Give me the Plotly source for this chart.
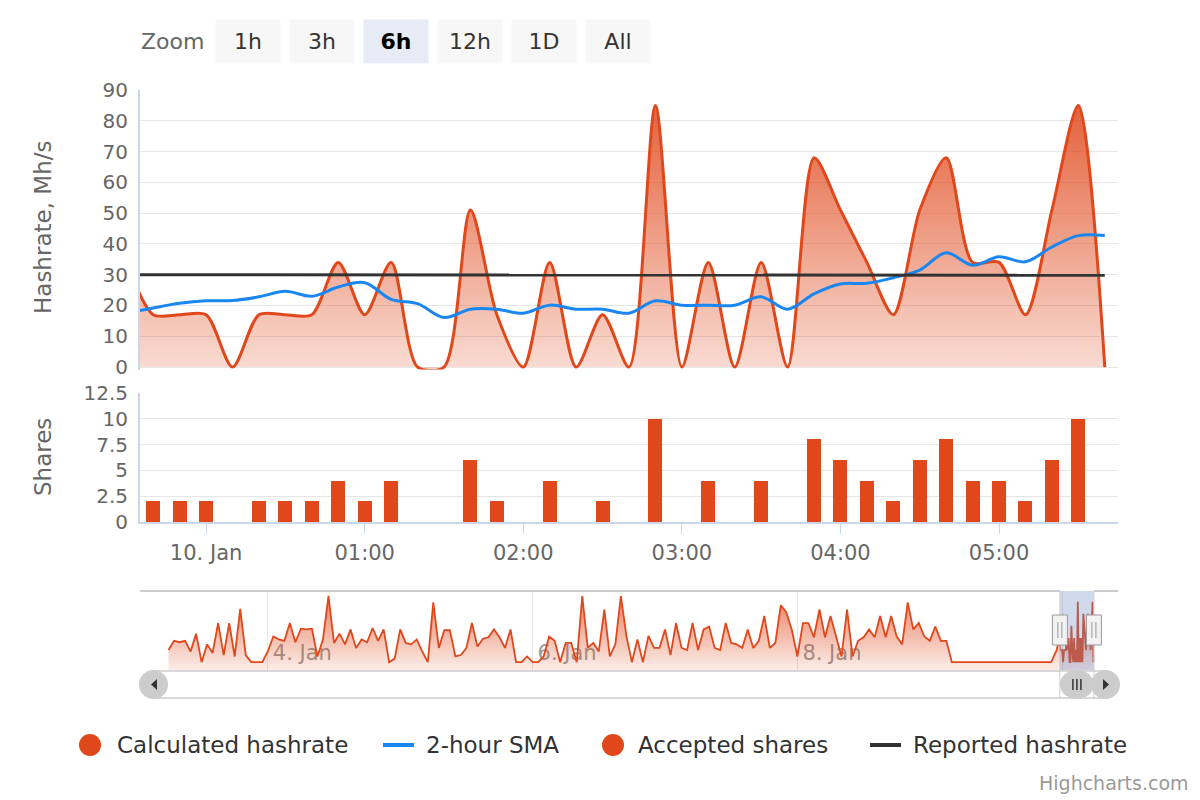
import plotly.graph_objects as go
import pandas as pd

FONT = 'DejaVu Sans'
ORANGE = '#e0481b'
BLUE = '#1a87f0'
DARK = '#333333'

# detail data, 10 minute samples from 9 Jan 23:30
detail_start = '2018-01-09 23:30'
hashrate = [34, 17, 17, 17, 0, 17, 17, 17, 34, 17, 34, 0, 0, 51, 17, 0, 34, 0, 17, 0,
            85, 0, 34, 0, 34, 0, 68, 51, 34, 17, 51, 68, 34, 34, 17, 51, 85, 0]
shares = [4, 2, 2, 2, 0, 2, 2, 2, 4, 2, 4, 0, 0, 6, 2, 0, 4, 0, 2, 0,
          10, 0, 4, 0, 4, 0, 8, 6, 4, 2, 6, 8, 4, 4, 2, 6, 10, 0]
sma_2h = [17.5, 19.2, 20.7, 21.5, 21.6, 22.8, 24.6, 23.0, 26.0, 27.4, 22.0, 20.6, 16.1,
          18.8, 18.8, 17.5, 20.1, 18.8, 18.8, 17.5, 21.5, 20.1, 20.1, 20.1, 22.8, 18.8,
          23.8, 27.0, 27.2, 29.0, 31.5, 37.1, 33.1, 35.8, 34.2, 39.0, 42.7, 42.7]
reported = [30.0, 30.0, 29.9, 29.9, 29.9, 29.9, 29.9, 29.9, 29.9, 29.9, 29.9, 29.9, 29.9,
            29.9, 29.9, 29.9, 29.9, 29.9, 29.9, 29.9, 29.9, 29.9, 29.9, 29.9, 29.9, 29.9,
            29.9, 29.9, 29.9, 29.9, 29.9, 29.9, 29.9, 29.9, 29.9, 29.9, 29.9, 29.8]

# navigator history, hourly samples from 3 Jan 06:00 to 9 Jan 23:00
nav_start = '2018-01-03 06:00'
nav_hashrate = [
    17, 30, 28, 30, 15, 40, 0, 25, 13, 55, 10, 55, 8, 75, 10, 0, 0, 0,
    15, 36, 32, 30, 55, 28, 47, 46, 47, 8, 32, 93, 27, 40, 25, 46, 20, 32, 28, 48, 30, 46, 0, 5,
    46, 27, 25, 32, 15, 0, 84, 20, 45, 45, 8, 10, 20, 55, 22, 33, 35, 46, 35, 20, 46, 0, 0, 8,
    0, 0, 8, 36, 30, 0, 27, 27, 0, 93, 20, 27, 15, 74, 8, 25, 93, 37, 0, 32, 0, 37, 20, 20,
    46, 10, 55, 20, 17, 55, 17, 46, 50, 20, 17, 55, 27, 25, 20, 46, 20, 30, 65, 20, 27, 80, 70, 45,
    8, 55, 55, 35, 74, 35, 65, 35, 8, 74, 8, 30, 35, 46, 35, 65, 35, 65, 36, 25, 84, 46, 55, 36,
    30, 50, 30, 30,
    0, 0, 0, 0, 0, 0, 0, 0, 0, 0, 0, 0, 0, 0, 0, 0, 0, 0, 0,
    17,
]

view_range = ['2018-01-09 23:35', '2018-01-10 05:45']
view_mid = '2018-01-10 02:40'
nav_range = ['2018-01-03 00:50', '2018-01-10 10:07']
hour_ticks = ['2018-01-10 00:00', '2018-01-10 01:00', '2018-01-10 02:00',
              '2018-01-10 03:00', '2018-01-10 04:00', '2018-01-10 05:00']
hour_labels = ['10. Jan', '01:00', '02:00', '03:00', '04:00', '05:00']
day_ticks = ['2018-01-04', '2018-01-06', '2018-01-08', '2018-01-10']
day_labels = ['4. Jan', '6. Jan', '8. Jan', '10. Jan']
zoom_buttons = ['1h', '3h', '6h', '12h', '1D', 'All']
selected_button = '6h'
legend_items = [('Calculated hashrate', 'circle', ORANGE),
                ('2-hour SMA', 'line', BLUE),
                ('Accepted shares', 'circle', ORANGE),
                ('Reported hashrate', 'line', DARK)]

times = pd.date_range(detail_start, periods=len(hashrate), freq='10min')
nav_times = pd.date_range(nav_start, periods=len(nav_hashrate), freq='h')
nav_x = list(nav_times) + list(times)
nav_y = nav_hashrate + hashrate

# page body adds an 8px offset, so layout positions are shifted back by it
OFF = 8


def px(x):
    return (x - OFF) / 1200


def py(y):
    return 1 - (y - OFF) / 800


fig = go.Figure()

# main pane
fig.add_trace(go.Scatter(
    x=times, y=hashrate, name='Calculated hashrate', mode='lines',
    line=dict(color=ORANGE, width=3, shape='spline', smoothing=0.8),
    fill='tozeroy',
    fillgradient=dict(type='vertical', colorscale=[[0, 'rgba(224,72,27,0.19)'],
                                                  [1, 'rgba(224,72,27,0.86)']]),
    xaxis='x', yaxis='y'))
fig.add_trace(go.Scatter(
    x=times, y=sma_2h, name='2-hour SMA', mode='lines',
    line=dict(color=BLUE, width=3, shape='spline'),
    xaxis='x', yaxis='y'))
fig.add_trace(go.Scatter(
    x=times, y=reported, name='Reported hashrate', mode='lines',
    line=dict(color=DARK, width=3),
    xaxis='x', yaxis='y'))

# shares pane
fig.add_trace(go.Bar(
    x=times, y=shares, name='Accepted shares', width=318000,
    marker=dict(color=ORANGE, line=dict(width=0)),
    xaxis='x2', yaxis='y2'))

# navigator
nav_floor = -11
fig.add_trace(go.Scatter(
    x=nav_x, y=[nav_floor] * len(nav_x), mode='lines', line=dict(width=0),
    hoverinfo='skip', xaxis='x3', yaxis='y3'))
fig.add_trace(go.Scatter(
    x=nav_x, y=nav_y, name='Navigator', mode='lines', line=dict(color=ORANGE, width=1.8),
    fill='tonexty',
    fillgradient=dict(type='vertical', start=nav_floor, stop=95,
                      colorscale=[[0, 'rgba(224,72,27,0.1)'], [1, 'rgba(224,72,27,0.7)']]),
    xaxis='x3', yaxis='y3'))

x_dom = [px(140), px(1118)]
axis_font = dict(family=FONT, size=20, color='#666666')

fig.update_layout(
    width=1200, height=800,
    margin=dict(l=0, r=0, t=0, b=0, autoexpand=False),
    paper_bgcolor='white', plot_bgcolor='white',
    font=dict(family=FONT, color='#333333'),
    showlegend=False,
    bargap=0,
    xaxis=dict(domain=x_dom, anchor='y', range=view_range, showticklabels=False,
               showgrid=False, zeroline=False, showline=False, automargin=False),
    yaxis=dict(domain=[py(369.5), py(90)], anchor='x', range=[-0.8, 90], dtick=10,
               gridcolor='#e6e6e6', gridwidth=1, zeroline=False,
               showline=True, linecolor='#ccd6eb', linewidth=2,
               tickfont=axis_font, ticklabelstandoff=6, automargin=False),
    xaxis2=dict(domain=x_dom, anchor='y2', range=view_range,
                tickvals=hour_ticks, ticktext=hour_labels,
                tickfont=dict(family=FONT, size=21, color='#666666'),
                ticks='outside', ticklen=10, tickcolor='#ccd6eb', tickwidth=1,
                showgrid=False, zeroline=False, showline=True, linecolor='#ccd6eb', linewidth=2,
                ticklabelstandoff=1, automargin=False),
    yaxis2=dict(domain=[py(522), py(393)], anchor='x2', range=[0, 12.5],
                tickvals=[0, 2.5, 5, 7.5, 10, 12.5], ticktext=['0', '2.5', '5', '7.5', '10', '12.5'],
                gridcolor='#e6e6e6', gridwidth=1, zeroline=False,
                showline=True, linecolor='#ccd6eb', linewidth=2,
                tickfont=axis_font, ticklabelstandoff=6, automargin=False),
    xaxis3=dict(domain=x_dom, anchor='y3', range=nav_range,
                tickvals=day_ticks, ticktext=day_labels,
                ticklabelposition='inside right', ticklabelshift=5, ticks='',
                tickfont=dict(family=FONT, size=21, color='#999999'),
                showgrid=True, gridcolor='#e6e6e6', gridwidth=1,
                zeroline=False, showline=False, layer='below traces', automargin=False),
    yaxis3=dict(domain=[py(670), py(591)], anchor='x3', range=[nav_floor, 100],
                visible=False, fixedrange=True, automargin=False),
)

shapes = []
outline = dict(color='#cccccc', width=2)
# navigator outline and mask
shapes.append(dict(type='line', xref='x3', yref='paper', x0=nav_range[0], x1=view_range[0],
                   y0=py(591), y1=py(591), line=outline))
shapes.append(dict(type='line', xref='x3', yref='paper', x0=view_range[1], x1=nav_range[1],
                   y0=py(591), y1=py(591), line=outline))
shapes.append(dict(type='rect', xref='x3', yref='paper', x0=view_range[0], x1=view_range[1],
                   y0=py(670), y1=py(591), fillcolor='rgba(102,133,194,0.3)',
                   line=dict(width=0), layer='above'))
# scrollbar
shapes.append(dict(type='rect', xref='paper', yref='paper', x0=px(154), x1=px(1106),
                   y0=py(698), y1=py(671), fillcolor='white', line=dict(color='#cccccc', width=1.5)))
for v in view_range:
    shapes.append(dict(type='line', xref='x3', yref='paper', x0=v, x1=v,
                       y0=py(699), y1=py(591), line=dict(color='#cccccc', width=1)))
shapes.append(dict(type='circle', xref='paper', yref='paper', x0=px(139), x1=px(168),
                   y0=py(699), y1=py(670), fillcolor='#cccccc', line=dict(width=0)))
shapes.append(dict(type='circle', xref='paper', yref='paper', x0=px(1091), x1=px(1120),
                   y0=py(699), y1=py(670), fillcolor='#cccccc', line=dict(width=0)))
shapes.append(dict(type='circle', xref='x3', yref='paper', x0=view_range[0], x1=view_range[1],
                   y0=py(699), y1=py(670), fillcolor='#cccccc', line=dict(width=0)))
for dx in (-4, 0, 4):
    shapes.append(dict(type='line', xref='x3', xsizemode='pixel', xanchor=view_mid,
                       x0=dx, x1=dx, yref='paper', y0=py(690), y1=py(679),
                       line=dict(color=DARK, width=1.5)))
shapes.append(dict(type='path', xref='paper', yref='paper',
                   path=f'M {px(151)},{py(684.5)} L {px(157)},{py(679)} L {px(157)},{py(690)} Z',
                   fillcolor=DARK, line=dict(width=0)))
shapes.append(dict(type='path', xref='paper', yref='paper',
                   path=f'M {px(1109)},{py(684.5)} L {px(1103)},{py(679)} L {px(1103)},{py(690)} Z',
                   fillcolor=DARK, line=dict(width=0)))
# navigator handles
for v in view_range:
    shapes.append(dict(type='rect', xref='x3', xsizemode='pixel', xanchor=v, x0=-7.5, x1=7.5,
                       yref='paper', y0=py(645), y1=py(615), fillcolor='#f2f2f2',
                       line=dict(color='#999999', width=1), layer='above'))
    for dx in (-2, 2):
        shapes.append(dict(type='line', xref='x3', xsizemode='pixel', xanchor=v, x0=dx, x1=dx,
                           yref='paper', y0=py(638), y1=py(622),
                           line=dict(color='#999999', width=1), layer='above'))

annotations = []
# legend, drawn by hand so the item spacing follows the original
legend_x = [79, 383, 602, 870]
legend_text_x = [116, 425, 637, 912]
for (name, kind, color), sx, tx in zip(legend_items, legend_x, legend_text_x):
    if kind == 'circle':
        shapes.append(dict(type='circle', xref='paper', yref='paper', x0=px(sx), x1=px(sx + 22),
                           y0=py(756), y1=py(734), fillcolor=color, line=dict(width=0)))
    else:
        shapes.append(dict(type='line', xref='paper', yref='paper', x0=px(sx), x1=px(sx + 31),
                           y0=py(745), y1=py(745), line=dict(color=color, width=4)))
    annotations.append(dict(text=name, xref='paper', yref='paper', x=px(tx), y=py(745),
                            xanchor='left', yanchor='middle', showarrow=False, borderpad=0,
                            font=dict(family=FONT, size=23, color='#333333')))
fig.update_layout(shapes=shapes)

annotations.append(dict(text='Zoom', xref='paper', yref='paper', x=px(140), y=py(42),
                        xanchor='left', yanchor='middle', showarrow=False, borderpad=0,
                        font=dict(family=FONT, size=22, color='#666666')))
for i, label in enumerate(zoom_buttons):
    sel = label == selected_button
    annotations.append(dict(
        text=f'<b>{label}</b>' if sel else label, xref='paper', yref='paper',
        x=px(248 + 74 * i), y=py(41), xanchor='center', yanchor='middle', showarrow=False,
        width=64, height=43, borderpad=0, bgcolor='#e6ebf5' if sel else '#f7f7f7',
        font=dict(family=FONT, size=22, color='#000000' if sel else '#333333')))
annotations.append(dict(text='Hashrate, Mh/s', xref='paper', yref='paper', x=px(43), y=py(228),
                        textangle=-90, showarrow=False, xanchor='center', yanchor='middle',
                        font=dict(family=FONT, size=23, color='#666666')))
annotations.append(dict(text='Shares', xref='paper', yref='paper', x=px(43), y=py(457),
                        textangle=-90, showarrow=False, xanchor='center', yanchor='middle',
                        font=dict(family=FONT, size=23, color='#666666')))
annotations.append(dict(text='Highcharts.com', xref='paper', yref='paper', x=px(1190), y=py(783),
                        xanchor='right', yanchor='middle', showarrow=False, borderpad=0,
                        font=dict(family=FONT, size=19, color='#999999')))
fig.update_layout(annotations=annotations)

fig.write_html('out.html')
